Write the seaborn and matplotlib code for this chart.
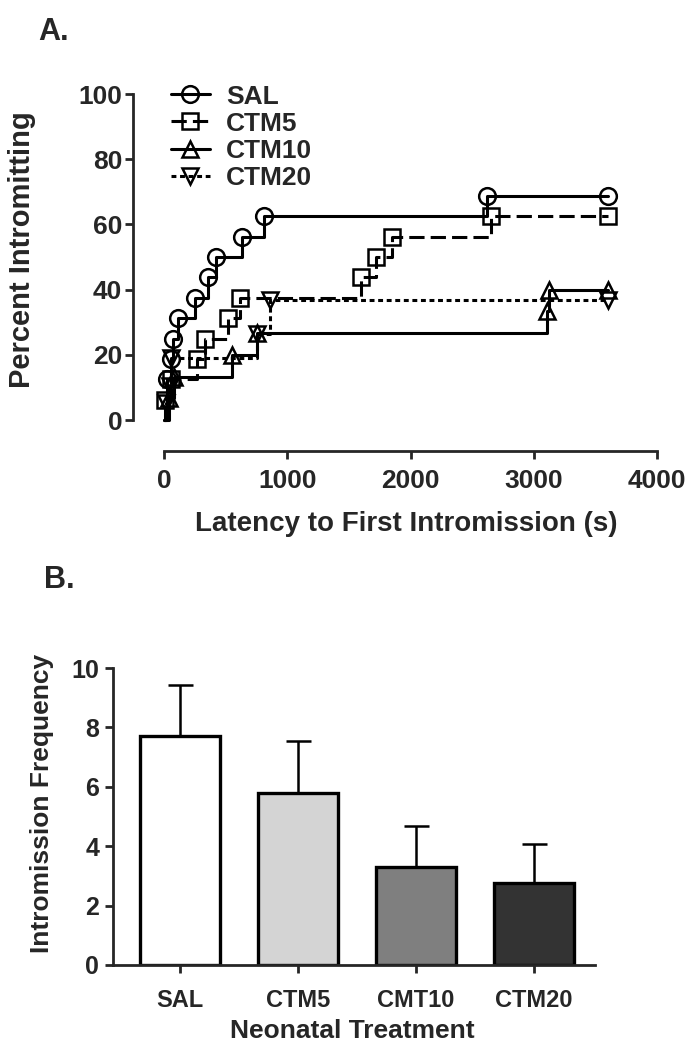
import numpy as np
import pandas as pd
import matplotlib
matplotlib.use('Agg')
import matplotlib.pyplot as plt
import seaborn as sns

sns.set_theme(style='ticks')
plt.rcParams['font.family'] = ['Liberation Sans', 'DejaVu Sans']
plt.rcParams['font.weight'] = 'bold'

# Panel A: cumulative percent intromitting (event times in s, step values in %)
sal_t = [25, 60, 75, 115, 250, 360, 420, 630, 810, 2620, 3600]
sal_p = [12.5, 18.75, 25, 31.25, 37.5, 43.75, 50, 56.25, 62.5, 68.75, 68.75]
ctm5_t = [10, 60, 267, 333, 522, 616, 1600, 1720, 1850, 2650, 3600]
ctm5_p = [6.25, 12.5, 18.75, 25, 31.25, 37.5, 43.75, 50, 56.25, 62.5, 62.5]
ctm10_t = [40, 80, 550, 755, 3110, 3120, 3600]
ctm10_p = [6.67, 13.33, 20, 26.67, 33.33, 40, 40]
ctm20_t = [20, 45, 60, 752, 860, 3600]
ctm20_p = [5.26, 10.53, 18.9, 26.32, 36.84, 36.84]

# Panel B: intromission frequency, mean and SEM
groups = ['SAL', 'CTM5', 'CMT10', 'CTM20']
means = [7.72, 5.78, 3.29, 2.76]
sems = [1.72, 1.76, 1.39, 1.33]
bar_colors = ['#ffffff', '#d4d4d4', '#7f7f7f', '#333333']

W, H = 696, 1050
fig = plt.figure(figsize=(W / 100, H / 100), dpi=100)


def box(l, r, t, b):
    return [l / W, 1 - b / H, (r - l) / W, (b - t) / H]


lw = 2.0

# ---------- Panel A ----------
axA = fig.add_axes(box(164, 657, 94, 420))
series = [
    ('SAL', sal_t, sal_p, 'o', '-', 12),
    ('CTM5', ctm5_t, ctm5_p, 's', (0, (5, 2)), 12),
    ('CTM10', ctm10_t, ctm10_p, '^', '-', 12),
    ('CTM20', ctm20_t, ctm20_p, 'v', (0, (1.6, 1.2)), 12),
]
for name, t, p, mk, ls, ms in series:
    df = pd.DataFrame({'t': [0] + t, 'p': [0] + p})
    sns.lineplot(data=df, x='t', y='p', ax=axA, estimator=None, color='black',
                 linewidth=2.2, linestyle=ls, drawstyle='steps-post',
                 marker=mk, markersize=ms, markerfacecolor='none',
                 markeredgecolor='black', markeredgewidth=1.8,
                 markevery=list(range(1, len(df))), label=name, clip_on=False)

axA.set_xlim(0, 4000)
axA.set_ylim(0, 100)
axA.set_xticks([0, 1000, 2000, 3000, 4000])
axA.set_yticks([0, 20, 40, 60, 80, 100])
axA.set_xlabel('')
axA.set_ylabel('')
sns.despine(ax=axA)
axA.spines['left'].set_position(('outward', 22))
axA.spines['bottom'].set_position(('outward', 22))
for s in ['left', 'bottom']:
    axA.spines[s].set_linewidth(lw)
axA.tick_params(width=lw, length=6, labelsize=19, pad=2)
axA.tick_params(axis='x', pad=7)
for lab in axA.get_xticklabels() + axA.get_yticklabels():
    lab.set_fontweight('bold')

leg = axA.legend(loc='upper left', bbox_to_anchor=(160 / W, 1 - 74 / H),
                 bbox_transform=fig.transFigure, frameon=False, borderaxespad=0,
                 handlelength=1.5, handletextpad=0.6, labelspacing=0.12,
                 prop={'size': 19, 'weight': 'bold'})

fig.text(22 / W, 1 - 250 / H, 'Percent Intromitting', rotation=90, ha='center',
         va='center', fontsize=21, fontweight='bold')
fig.text(406 / W, 1 - 524 / H, 'Latency to First Intromission (s)', ha='center',
         va='center', fontsize=20, fontweight='bold')
fig.text(38 / W, 1 - 32 / H, 'A.', ha='left', va='center', fontsize=22, fontweight='bold')

# ---------- Panel B ----------
axB = fig.add_axes(box(113, 595, 668, 965))
dfB = pd.DataFrame({'group': groups, 'mean': means})
sns.barplot(data=dfB, x='group', y='mean', hue='group', palette=bar_colors,
            edgecolor='black', linewidth=2.4, width=0.68, legend=False, ax=axB)
axB.errorbar(np.arange(len(groups)), means, yerr=[np.zeros(len(sems)), sems],
             fmt='none', ecolor='black', elinewidth=1.8, capsize=9, capthick=1.8,
             zorder=1)
axB.set_xlim(-0.57, 3.52)
axB.set_ylim(0, 10)
axB.set_yticks([0, 2, 4, 6, 8, 10])
axB.set_xlabel('')
axB.set_ylabel('')
sns.despine(ax=axB)
for s in ['left', 'bottom']:
    axB.spines[s].set_linewidth(lw)
axB.tick_params(width=lw, length=6, labelsize=18, pad=4)
axB.tick_params(axis='x', labelsize=17, pad=11)
for lab in axB.get_xticklabels() + axB.get_yticklabels():
    lab.set_fontweight('bold')

fig.text(42 / W, 1 - 803 / H, 'Intromission Frequency', rotation=90, ha='center',
         va='center', fontsize=19, fontweight='bold')
fig.text(352 / W, 1 - 1031 / H, 'Neonatal Treatment', ha='center', va='center',
         fontsize=19, fontweight='bold')
fig.text(44 / W, 1 - 580 / H, 'B.', ha='left', va='center', fontsize=22, fontweight='bold')

fig.savefig('out.png', dpi=100)
